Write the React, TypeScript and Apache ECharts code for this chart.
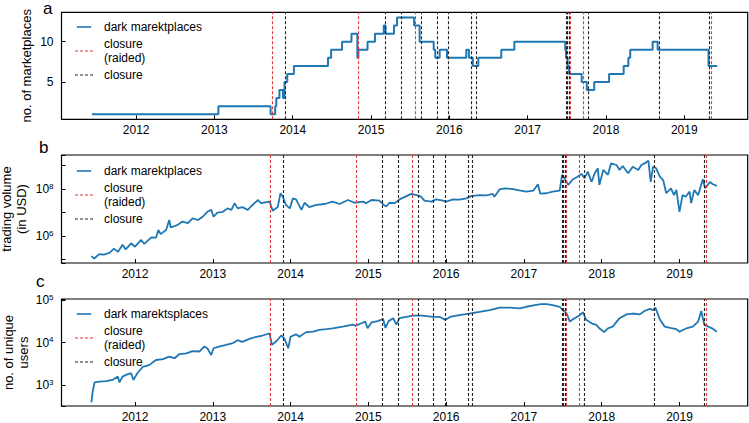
import React, { useEffect, useRef } from "react";
import * as echarts from "echarts";

// ---------- data (x values are decimal years) ----------
const yearTicks = [2012, 2013, 2014, 2015, 2016, 2017, 2018, 2019];

// panel a: number of active marketplaces (step changes)
const marketDates = [
  2011.435, 2013.05, 2013.717, 2013.776, 2013.79, 2013.83, 2013.875, 2013.895, 2013.93, 2014.015,
  2014.45, 2014.49, 2014.63, 2014.75, 2014.825, 2014.838, 2014.955, 2015.05, 2015.162, 2015.185,
  2015.293, 2015.332, 2015.55, 2015.62, 2015.8, 2015.82, 2015.876, 2015.97, 2016.216, 2016.25,
  2016.3, 2016.37, 2016.663, 2016.83, 2017.48, 2017.49, 2017.51, 2017.53, 2017.69, 2017.755,
  2017.85, 2018.04, 2018.226, 2018.286, 2018.31, 2018.596, 2018.66, 2019.31, 2019.42,
];
const marketCounts = [
  1, 2, 1, 2, 3, 4, 3, 5, 6, 7,
  8, 9, 10, 11, 8, 9, 10, 11, 12, 11,
  12, 13, 12, 10, 9, 8, 9, 8, 9, 8,
  7, 8, 9, 10, 9, 8, 7, 6, 5, 4,
  5, 6, 7, 8, 9, 10, 9, 7, 7,
];

// panel b: trading volume in USD
const volumeDates = [
  2011.44, 2011.476, 2011.54, 2011.6, 2011.67, 2011.73, 2011.78, 2011.84, 2011.88, 2011.95,
  2012.0, 2012.08, 2012.12, 2012.21, 2012.27, 2012.3, 2012.33, 2012.4, 2012.44, 2012.46,
  2012.55, 2012.61, 2012.68, 2012.74, 2012.81, 2012.87, 2012.93, 2012.98, 2013.01, 2013.06,
  2013.13, 2013.19, 2013.24, 2013.28, 2013.32, 2013.38, 2013.45, 2013.49, 2013.58, 2013.62,
  2013.73, 2013.77, 2013.835, 2013.87, 2013.9, 2013.94, 2013.99, 2014.03, 2014.07, 2014.11,
  2014.14, 2014.18, 2014.24, 2014.33, 2014.44, 2014.54, 2014.63, 2014.74, 2014.82, 2014.93,
  2014.97, 2015.04, 2015.14, 2015.2, 2015.23, 2015.27, 2015.34, 2015.4, 2015.49, 2015.55,
  2015.62, 2015.68, 2015.72, 2015.81, 2015.87, 2015.96, 2016.0, 2016.09, 2016.17, 2016.26,
  2016.32, 2016.43, 2016.52, 2016.6, 2016.62, 2016.69, 2016.77, 2016.86, 2016.94, 2017.03,
  2017.12, 2017.18, 2017.21, 2017.29, 2017.37, 2017.46, 2017.49, 2017.52, 2017.57, 2017.63,
  2017.69, 2017.74, 2017.78, 2017.82, 2017.87, 2017.91, 2017.95, 2017.97, 2018.02, 2018.08,
  2018.12, 2018.19, 2018.23, 2018.27, 2018.34, 2018.4, 2018.47, 2018.51, 2018.55, 2018.6,
  2018.63, 2018.66, 2018.7, 2018.75, 2018.79, 2018.83, 2018.89, 2018.93, 2018.96, 2019.0,
  2019.04, 2019.08, 2019.13, 2019.15, 2019.19, 2019.24, 2019.3, 2019.33, 2019.39, 2019.43,
  2019.48,
];
const volumeUSD = [
  1.4e5, 1.1e5, 1.7e5, 1.6e5, 1.9e5, 2.9e5, 2.1e5, 4.2e5, 2.7e5, 4.9e5,
  3.5e5, 6.8e5, 4.6e5, 8.7e5, 8.5e5, 1.8e6, 1.2e6, 1.8e6, 4.8e6, 2.3e6,
  3.0e6, 4.1e6, 3.5e6, 5.6e6, 4.8e6, 6.6e6, 1.07e7, 1.3e7, 6.6e6, 9.8e6,
  1.07e7, 1.5e7, 1.3e7, 2.5e7, 1.5e7, 1.7e7, 1.3e7, 1.8e7, 3.4e7, 2.5e7,
  2.9e7, 1.2e7, 1.7e7, 6.6e7, 4.7e7, 2.1e7, 1.5e7, 4.0e7, 3.6e7, 2.0e7,
  1.3e7, 2.6e7, 1.7e7, 2.1e7, 2.3e7, 2.9e7, 2.3e7, 3.4e7, 2.6e7, 2.9e7,
  2.5e7, 3.4e7, 3.2e7, 2.1e7, 1.8e7, 2.6e7, 2.5e7, 3.6e7, 5.0e7, 6.2e7,
  5.5e7, 4.7e7, 3.2e7, 2.9e7, 3.6e7, 3.2e7, 2.9e7, 3.6e7, 3.5e7, 4.0e7,
  5.0e7, 5.5e7, 5.4e7, 6.2e7, 4.7e7, 9.8e7, 1.07e8, 9.8e7, 8.7e7, 7.8e7,
  8.5e7, 1.6e8, 6.3e7, 6.6e7, 7.8e7, 8.5e7, 4.0e8, 2.9e8, 1.5e8, 2.6e8,
  3.3e8, 4.4e8, 2.9e8, 5.5e8, 2.0e8, 4.7e8, 7.6e8, 1.5e8, 6.5e8, 4.0e8,
  1.23e9, 1.05e9, 6.5e8, 9.5e8, 4.7e8, 8.9e8, 6.5e8, 1.05e9, 1.23e9, 1.6e9,
  2.0e8, 8.9e8, 7.6e8, 3.3e8, 2.4e8, 6.6e7, 1.07e8, 5.5e7, 9.1e7, 1.07e7,
  5.5e7, 4.7e7, 7.8e7, 2.5e7, 9.1e7, 5.5e7, 2.6e8, 1.07e8, 2.0e8, 1.6e8,
  1.35e8,
];

// panel c: number of unique users
const userDates = [
  2011.44, 2011.455, 2011.48, 2011.54, 2011.63, 2011.71, 2011.78, 2011.8, 2011.84, 2011.9,
  2011.95, 2011.98, 2012.03, 2012.1, 2012.18, 2012.27, 2012.36, 2012.44, 2012.51, 2012.57,
  2012.66, 2012.74, 2012.83, 2012.89, 2012.93, 2012.98, 2013.01, 2013.08, 2013.17, 2013.26,
  2013.32, 2013.38, 2013.47, 2013.56, 2013.64, 2013.73, 2013.76, 2013.82, 2013.88, 2013.92,
  2013.97, 2014.0, 2014.07, 2014.115, 2014.2, 2014.29, 2014.37, 2014.46, 2014.54, 2014.67,
  2014.8, 2014.84, 2014.91, 2014.96, 2014.99, 2015.04, 2015.12, 2015.19, 2015.22, 2015.26,
  2015.32, 2015.36, 2015.4, 2015.49, 2015.57, 2015.7, 2015.83, 2015.92, 2015.99, 2016.05,
  2016.17, 2016.3, 2016.43, 2016.56, 2016.69, 2016.82, 2016.945, 2017.03, 2017.14, 2017.22,
  2017.29, 2017.37, 2017.46, 2017.5, 2017.55, 2017.59, 2017.65, 2017.72, 2017.76, 2017.8,
  2017.87, 2017.93, 2017.97, 2018.03, 2018.08, 2018.14, 2018.23, 2018.32, 2018.4, 2018.49,
  2018.55, 2018.62, 2018.66, 2018.69, 2018.75, 2018.81, 2018.88, 2018.96, 2019.0, 2019.09,
  2019.17, 2019.24, 2019.28, 2019.32, 2019.37, 2019.42, 2019.48,
];
const userCounts = [
  390, 690, 1150, 1200, 1230, 1320, 1580, 1150, 1580, 1780,
  1900, 1320, 1900, 2700, 2950, 3900, 4100, 4700, 4300, 5400,
  5600, 6300, 6200, 8100, 7400, 5100, 7400, 8100, 8900, 9800,
  11500, 10500, 12300, 13800, 14800, 16600, 8900, 11000, 14800, 12600,
  7400, 13800, 15800, 13800, 17800, 18200, 20000, 20900, 21900, 24000,
  26900, 25100, 28800, 31600, 21900, 30200, 32400, 36300, 22400, 32400,
  38000, 26900, 38000, 40700, 43700, 43700, 40700, 40700, 34700, 40700,
  44700, 49000, 53700, 58900, 67600, 67600, 64600, 70800, 77600, 81300,
  81300, 77600, 70800, 58900, 49000, 31600, 38000, 44700, 52500, 34700,
  28800, 26300, 21900, 17800, 21900, 24000, 38000, 46800, 49000, 46800,
  56200, 63100, 58900, 67600, 34700, 24000, 22400, 20900, 18200, 21900,
  24000, 31600, 56200, 26300, 24000, 21900, 18200,
];

// marketplace closures
const raidedClosures = [2013.745, 2014.84, 2015.57, 2017.51, 2017.545, 2017.715, 2019.335];
const otherClosures = [
  2013.9, 2015.185, 2015.375, 2015.645, 2015.84, 2015.995, 2016.28, 2016.335,
  2017.49, 2017.5, 2017.525, 2017.78, 2018.68, 2019.32,
];

// ---------- styling ----------
const FONT = "'Liberation Sans', Arial, Helvetica, sans-serif";
const BLUE = "#1f77b4";
const RED = "#e0393e";
const DARK = "#222222";
const RAIDED_NAME = "closure\n(raided)";
const CLOSURE_NAME = "closure";
const SOLID_ICON = "path://M0,0h18v2h-18z";
const DASH_ICON = "path://M0,0h3v1h-3zM5,0h3v1h-3zM10,0h3v1h-3zM15,0h3v1h-3z";

const grids = [
  { left: 61.5, top: 12.3, width: 686.2, height: 107 },
  { left: 61.5, top: 155, width: 686.2, height: 108 },
  { left: 61.5, top: 299, width: 686.2, height: 107 },
];
const xRanges = [
  [2011.047, 2019.81],
  [2011.055, 2019.877],
  [2011.055, 2019.877],
];

function makeXAxis(i: number) {
  return {
    type: "value",
    gridIndex: i,
    min: xRanges[i][0],
    max: xRanges[i][1],
    axisLine: { show: false },
    splitLine: { show: false },
    axisTick: {
      show: true,
      inside: true,
      length: 4,
      customValues: yearTicks,
      lineStyle: { color: "#000", width: 1 },
    },
    axisLabel: {
      show: true,
      customValues: yearTicks,
      formatter: (v: number) => String(Math.round(v)),
      fontSize: 12,
      lineHeight: 12,
      fontFamily: FONT,
      color: "#000",
      margin: 5,
    },
  };
}

function powLabel(allowed: number[]) {
  return (v: number) => {
    const l = Math.log10(v);
    const e = Math.round(l);
    if (Math.abs(l - e) > 1e-6 || allowed.indexOf(e) < 0) return "";
    return `{b|10}{s|${e}}`;
  };
}
const supRich = {
  b: { fontSize: 12, lineHeight: 14, fontFamily: FONT, color: "#000" },
  s: { fontSize: 8, lineHeight: 8, verticalAlign: "top", fontFamily: FONT, color: "#000" },
};

const nameStyle = { fontSize: 13, fontFamily: FONT, color: "#000", lineHeight: 15 };

function closureSeries(i: number) {
  const mk = (name: string, color: string, xs: number[]) => ({
    name,
    type: "line",
    xAxisIndex: i,
    yAxisIndex: i,
    data: [],
    symbol: "none",
    itemStyle: { color },
    lineStyle: { color, width: 1.1, type: [3, 2] },
    markLine: {
      silent: true,
      symbol: ["none", "none"],
      label: { show: false },
      animation: false,
      lineStyle: { color, width: 1.1, type: [3, 2] },
      data: xs.map((x) => ({ xAxis: x })),
    },
  });
  return [mk(RAIDED_NAME, RED, raidedClosures), mk(CLOSURE_NAME, DARK, otherClosures)];
}

function legendAt(top: number, first: string) {
  return {
    orient: "vertical",
    left: 75,
    top,
    padding: 0,
    itemWidth: 18,
    itemHeight: 1.6,
    itemGap: 3,
    selectedMode: false,
    data: [
      { name: first, icon: SOLID_ICON },
      { name: RAIDED_NAME, icon: DASH_ICON },
      { name: CLOSURE_NAME, icon: DASH_ICON },
    ],
    textStyle: { fontSize: 12, fontFamily: FONT, color: "#000", lineHeight: 14, padding: [0, 0, 0, 6] },
  };
}

const letterStyle = { fontSize: 17, fontFamily: FONT, fill: "#000" };

export default function App() {
  const ref = useRef<HTMLDivElement>(null);

  useEffect(() => {
    if (!ref.current) return;
    const chart = echarts.init(ref.current, null, { renderer: "svg" });

    const option: any = {
      animation: false,
      backgroundColor: "#fff",
      textStyle: { fontFamily: FONT },
      grid: grids.map((g) => ({
        ...g,
        show: true,
        borderColor: "#000",
        borderWidth: 1.2,
        backgroundColor: "transparent",
        containLabel: false,
        outerBoundsMode: "none",
      })),
      legend: [
        legendAt(20, "dark marektplaces"),
        legendAt(164, "dark marektplaces"),
        legendAt(307, "dark marektsplaces"),
      ],
      xAxis: [makeXAxis(0), makeXAxis(1), makeXAxis(2)],
      yAxis: [
        {
          type: "value",
          gridIndex: 0,
          min: 0.37,
          max: 13.65,
          axisLine: { show: false },
          splitLine: { show: false },
          axisTick: { show: true, inside: true, length: 4, customValues: [5, 10], lineStyle: { color: "#000" } },
          axisLabel: { customValues: [5, 10], fontSize: 12, fontFamily: FONT, color: "#000", margin: 8 },
          name: "no. of marketplaces",
          nameLocation: "middle",
          nameGap: 28,
          nameMoveOverlap: false,
          nameTextStyle: nameStyle,
        },
        {
          type: "log",
          logBase: 10,
          gridIndex: 1,
          min: 7.1e4,
          max: 2.8e9,
          axisLine: { show: false },
          splitLine: { show: false },
          axisTick: { show: true, inside: true, length: 4, lineStyle: { color: "#000" } },
          axisLabel: { formatter: powLabel([6, 8]), rich: supRich, margin: 8 },
          name: "trading volume\n(in USD)",
          nameLocation: "middle",
          nameGap: 33,
          nameMoveOverlap: false,
          nameTextStyle: nameStyle,
        },
        {
          type: "log",
          logBase: 10,
          gridIndex: 2,
          min: 319,
          max: 1.08e5,
          axisLine: { show: false },
          splitLine: { show: false },
          axisTick: { show: true, inside: true, length: 4, lineStyle: { color: "#000" } },
          axisLabel: { formatter: powLabel([3, 4, 5]), rich: supRich, margin: 8 },
          name: "no. of unique\nusers",
          nameLocation: "middle",
          nameGap: 31,
          nameMoveOverlap: false,
          nameTextStyle: nameStyle,
        },
      ],
      graphic: [
        { type: "text", x: 43, y: 0, style: { text: "a", ...letterStyle, verticalAlign: "top" } },
        { type: "text", x: 39, y: 156, style: { text: "b", ...letterStyle, verticalAlign: "bottom" } },
        { type: "text", x: 36, y: 290, style: { text: "c", ...letterStyle, verticalAlign: "bottom" } },
      ],
      series: [
        {
          name: "dark marektplaces",
          type: "line",
          xAxisIndex: 0,
          yAxisIndex: 0,
          step: "end",
          symbol: "none",
          data: marketDates.map((d, i) => [d, marketCounts[i]]),
          itemStyle: { color: BLUE },
          lineStyle: { color: BLUE, width: 2 },
          z: 3,
        },
        ...closureSeries(0),
        {
          name: "dark marektplaces",
          type: "line",
          xAxisIndex: 1,
          yAxisIndex: 1,
          symbol: "none",
          data: volumeDates.map((d, i) => [d, volumeUSD[i]]),
          itemStyle: { color: BLUE },
          lineStyle: { color: BLUE, width: 1.8 },
          z: 3,
        },
        ...closureSeries(1),
        {
          name: "dark marektsplaces",
          type: "line",
          xAxisIndex: 2,
          yAxisIndex: 2,
          symbol: "none",
          data: userDates.map((d, i) => [d, userCounts[i]]),
          itemStyle: { color: BLUE },
          lineStyle: { color: BLUE, width: 1.8 },
          z: 3,
        },
        ...closureSeries(2),
      ],
    };

    chart.setOption(option);
    return () => chart.dispose();
  }, []);

  return (
    <div
      ref={ref}
      style={{ position: "fixed", left: 0, top: 0, width: 749, height: 423, background: "#fff" }}
    />
  );
}
